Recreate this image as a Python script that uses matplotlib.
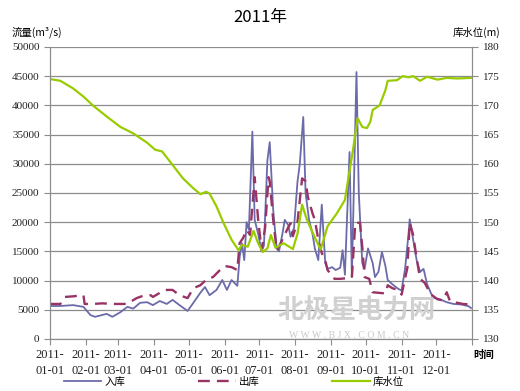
import matplotlib
matplotlib.use("Agg")
import matplotlib.dates as mdates
import matplotlib.pyplot as plt
import pandas as pd

plt.rcParams["font.family"] = ["Noto Sans CJK SC", "DejaVu Sans"]

# inflow (入库), m3/s
in_dates = ["2011-01-01", "2011-01-10", "2011-01-21", "2011-01-30", "2011-02-05", "2011-02-09",
            "2011-02-19", "2011-02-24", "2011-03-03", "2011-03-09", "2011-03-14", "2011-03-20",
            "2011-03-26", "2011-03-31", "2011-04-06", "2011-04-12", "2011-04-17", "2011-04-23",
            "2011-04-30", "2011-05-05", "2011-05-11", "2011-05-15", "2011-05-19", "2011-05-25",
            "2011-05-30", "2011-06-03", "2011-06-07", "2011-06-12", "2011-06-14", "2011-06-16",
            "2011-06-18", "2011-06-20", "2011-06-22", "2011-06-25", "2011-06-27", "2011-06-30",
            "2011-07-03", "2011-07-05", "2011-07-08", "2011-07-10", "2011-07-13", "2011-07-16",
            "2011-07-18", "2011-07-21", "2011-07-23", "2011-07-26", "2011-07-28", "2011-07-31",
            "2011-08-03", "2011-08-05", "2011-08-08", "2011-08-10", "2011-08-13", "2011-08-16",
            "2011-08-18", "2011-08-21", "2011-08-24", "2011-08-27", "2011-08-29", "2011-09-02",
            "2011-09-05", "2011-09-09", "2011-09-11", "2011-09-13", "2011-09-17", "2011-09-19",
            "2011-09-23", "2011-09-25", "2011-09-28", "2011-09-30", "2011-10-03", "2011-10-07",
            "2011-10-09", "2011-10-12", "2011-10-15", "2011-10-18", "2011-10-20", "2011-10-25",
            "2011-10-29", "2011-11-01", "2011-11-04", "2011-11-07", "2011-11-08", "2011-11-11",
            "2011-11-14", "2011-11-17", "2011-11-20", "2011-11-23", "2011-11-28", "2011-12-04",
            "2011-12-10", "2011-12-16", "2011-12-23", "2011-12-29", "2011-12-31"]
inflow = [5650, 5650, 5800, 5500, 4100, 3800,
          4300, 3800, 4600, 5500, 5200, 6200,
          6300, 5800, 6500, 6000, 6700, 5800,
          4800, 6200, 7900, 8900, 7500, 8400,
          10100, 8400, 10100, 9100, 14000, 16400,
          13500, 20000, 18700, 35500, 20400, 18000,
          15000, 16000, 30600, 33700, 22100, 15500,
          15000, 18000, 20400, 19500, 17500, 19000,
          26900, 30000, 38000, 25000, 20400, 18000,
          15500, 13500, 23000, 13000, 12000, 12300,
          11800, 12200, 15200, 11000, 32000, 10600,
          45700, 25000, 13000, 12000, 15500, 13000,
          10600, 11500, 14900, 12500, 10100, 9200,
          8600, 8300, 12000, 18000, 20500, 17000,
          13500, 11500, 12000, 9400, 7100, 6800,
          6300, 6000, 5900, 5600, 5300]

# outflow (出库), m3/s
out_dates = ["2011-01-01", "2011-01-10", "2011-01-14", "2011-01-21", "2011-01-30", "2011-01-31",
             "2011-02-07", "2011-02-15", "2011-02-26", "2011-03-09", "2011-03-11", "2011-03-17",
             "2011-03-24", "2011-03-29", "2011-03-31", "2011-04-06", "2011-04-10", "2011-04-17",
             "2011-04-23", "2011-04-30", "2011-05-05", "2011-05-11", "2011-05-17", "2011-05-22",
             "2011-05-28", "2011-06-01", "2011-06-07", "2011-06-12", "2011-06-14", "2011-06-17",
             "2011-06-20", "2011-06-23", "2011-06-27", "2011-06-30", "2011-07-03", "2011-07-06",
             "2011-07-09", "2011-07-10", "2011-07-13", "2011-07-16", "2011-07-19", "2011-07-25",
             "2011-07-28", "2011-07-30", "2011-08-03", "2011-08-07", "2011-08-10", "2011-08-12",
             "2011-08-16", "2011-08-18", "2011-08-21", "2011-08-24", "2011-08-27", "2011-08-29",
             "2011-09-04", "2011-09-09", "2011-09-14", "2011-09-19", "2011-09-22", "2011-09-26",
             "2011-09-28", "2011-09-30", "2011-10-04", "2011-10-07", "2011-10-18", "2011-10-20",
             "2011-10-24", "2011-10-29", "2011-11-01", "2011-11-06", "2011-11-08", "2011-11-11",
             "2011-11-14", "2011-11-17", "2011-11-21", "2011-11-26", "2011-12-02", "2011-12-07",
             "2011-12-10", "2011-12-13", "2011-12-19", "2011-12-24", "2011-12-31"]
outflow = [6000, 6000, 7200, 7300, 7500, 6000,
           6000, 6100, 6000, 6000, 6300, 7000,
           7500, 7500, 7200, 7900, 8400, 8400,
           7500, 7000, 8700, 9200, 10300, 10600,
           11800, 12500, 12300, 11800, 16400, 17300,
           18700, 17800, 27700, 20400, 15200, 19000,
           27700, 27000, 20400, 15200, 16200, 18700,
           19800, 17600, 20000, 27500, 27000, 24300,
           21500, 20400, 17000, 14700, 13500, 11800,
           10300, 10300, 10400, 10500, 19900, 19900,
           15800, 10600, 10300, 8000, 7800, 9200,
           8700, 8400, 7600, 12200, 19900, 17800,
           13800, 10300, 9600, 7700, 6800, 6600,
           8000, 6400, 6200, 6000, 5900]

# reservoir level (库水位), m
lv_dates = ["2011-01-01", "2011-01-10", "2011-01-21", "2011-01-30", "2011-02-07", "2011-02-19",
            "2011-03-03", "2011-03-14", "2011-03-26", "2011-04-02", "2011-04-08", "2011-04-17",
            "2011-04-26", "2011-05-05", "2011-05-11", "2011-05-16", "2011-05-19", "2011-05-25",
            "2011-05-31", "2011-06-07", "2011-06-13", "2011-06-16", "2011-06-21", "2011-06-26",
            "2011-06-30", "2011-07-04", "2011-07-08", "2011-07-11", "2011-07-15", "2011-07-22",
            "2011-07-30", "2011-08-03", "2011-08-07", "2011-08-11", "2011-08-17", "2011-08-23",
            "2011-08-29", "2011-09-06", "2011-09-13", "2011-09-16", "2011-09-20", "2011-09-24",
            "2011-09-28", "2011-10-02", "2011-10-05", "2011-10-07", "2011-10-13", "2011-10-18",
            "2011-10-20", "2011-10-28", "2011-11-02", "2011-11-07", "2011-11-11", "2011-11-17",
            "2011-11-23", "2011-12-02", "2011-12-10", "2011-12-19", "2011-12-31"]
level = [174.5, 174.2, 172.9, 171.5, 170.0, 168.1,
         166.3, 165.2, 163.6, 162.4, 162.1, 159.8,
         157.5, 155.8, 154.8, 155.2, 154.9, 152.7,
         149.9, 147.0, 145.2, 146.1, 145.8, 148.5,
         146.4, 144.9, 145.5, 147.8, 145.6, 146.4,
         145.4, 148.0, 153.0, 150.5, 147.8, 145.3,
         149.3, 151.5, 153.8, 157.5, 162.4, 167.8,
         166.3, 166.1, 167.2, 169.2, 170.0, 172.6,
         174.2, 174.3, 175.0, 174.8, 175.0, 174.2,
         174.9, 174.4, 174.7, 174.6, 174.7]

month_ticks = pd.date_range("2011-01-01", "2012-01-01", freq="MS")
month_labels = [d.strftime("%Y-\n%m-%d") for d in month_ticks[:-1]] + [""]

fig = plt.figure(figsize=(5.2, 3.91), dpi=100)
ax1 = fig.add_axes([0.096, 0.133, 0.812, 0.747])
ax2 = ax1.twinx()

grid_c = "#8c8c8c"
l_in, = ax1.plot(pd.to_datetime(in_dates), inflow, color="#6b6baa", lw=1.3, label="入库")
l_out, = ax1.plot(pd.to_datetime(out_dates), outflow, color="#993366", lw=1.7,
                  dashes=(5, 3), label="出库")
l_lv, = ax2.plot(pd.to_datetime(lv_dates), level, color="#99cc00", lw=1.6, label="库水位")

ax1.set_ylim(0, 50000)
ax1.set_yticks(range(0, 50001, 5000))
ax2.set_ylim(130, 180)
ax2.set_yticks(range(130, 181, 5))
ax1.set_xlim(pd.Timestamp("2011-01-01"), pd.Timestamp("2012-01-01"))
ax1.set_xticks(month_ticks)
ax1.set_xticklabels(month_labels, linespacing=1.4)

ax1.yaxis.grid(True, color=grid_c, lw=0.9)
ax1.set_axisbelow(True)
for ax in (ax1, ax2):
    ax.spines["top"].set_visible(False)
    for s in ("left", "right", "bottom"):
        ax.spines[s].set_color(grid_c)
    ax.tick_params(colors=grid_c, labelcolor="#222222", labelsize=8, length=4, width=0.8)
    for t in ax.get_xticklabels() + ax.get_yticklabels():
        t.set_family(["Liberation Serif", "DejaVu Serif"])
ax1.tick_params(axis="x", labelsize=9)

fig.text(0.5, 0.955, "2011年", ha="center", va="center", fontsize=12)
fig.text(0.022, 0.918, "流量(m³/s)", ha="left", va="center", fontsize=7.5)
fig.text(0.962, 0.918, "库水位(m)", ha="right", va="center", fontsize=7.5)
fig.text(0.91, 0.092, "时间", ha="left", va="center", fontsize=7.5, fontweight="bold")

# site watermark
fig.text(0.685, 0.205, "北极星电力网", ha="center", va="center", fontsize=19,
         color="#d0d0d0", fontweight="bold")
fig.text(0.672, 0.142, "W W W . B J X . C O M . C N", ha="center", va="center", fontsize=7,
         color="#c8c8c8", family=["Liberation Serif", "DejaVu Serif"])

fig.legend(handles=[l_in, l_out, l_lv], loc="center", bbox_to_anchor=(0.45, 0.024), ncol=3,
           frameon=False, fontsize=7.5, handlelength=3.6, columnspacing=7, handletextpad=0.3)

fig.savefig("out.png", dpi=100)
